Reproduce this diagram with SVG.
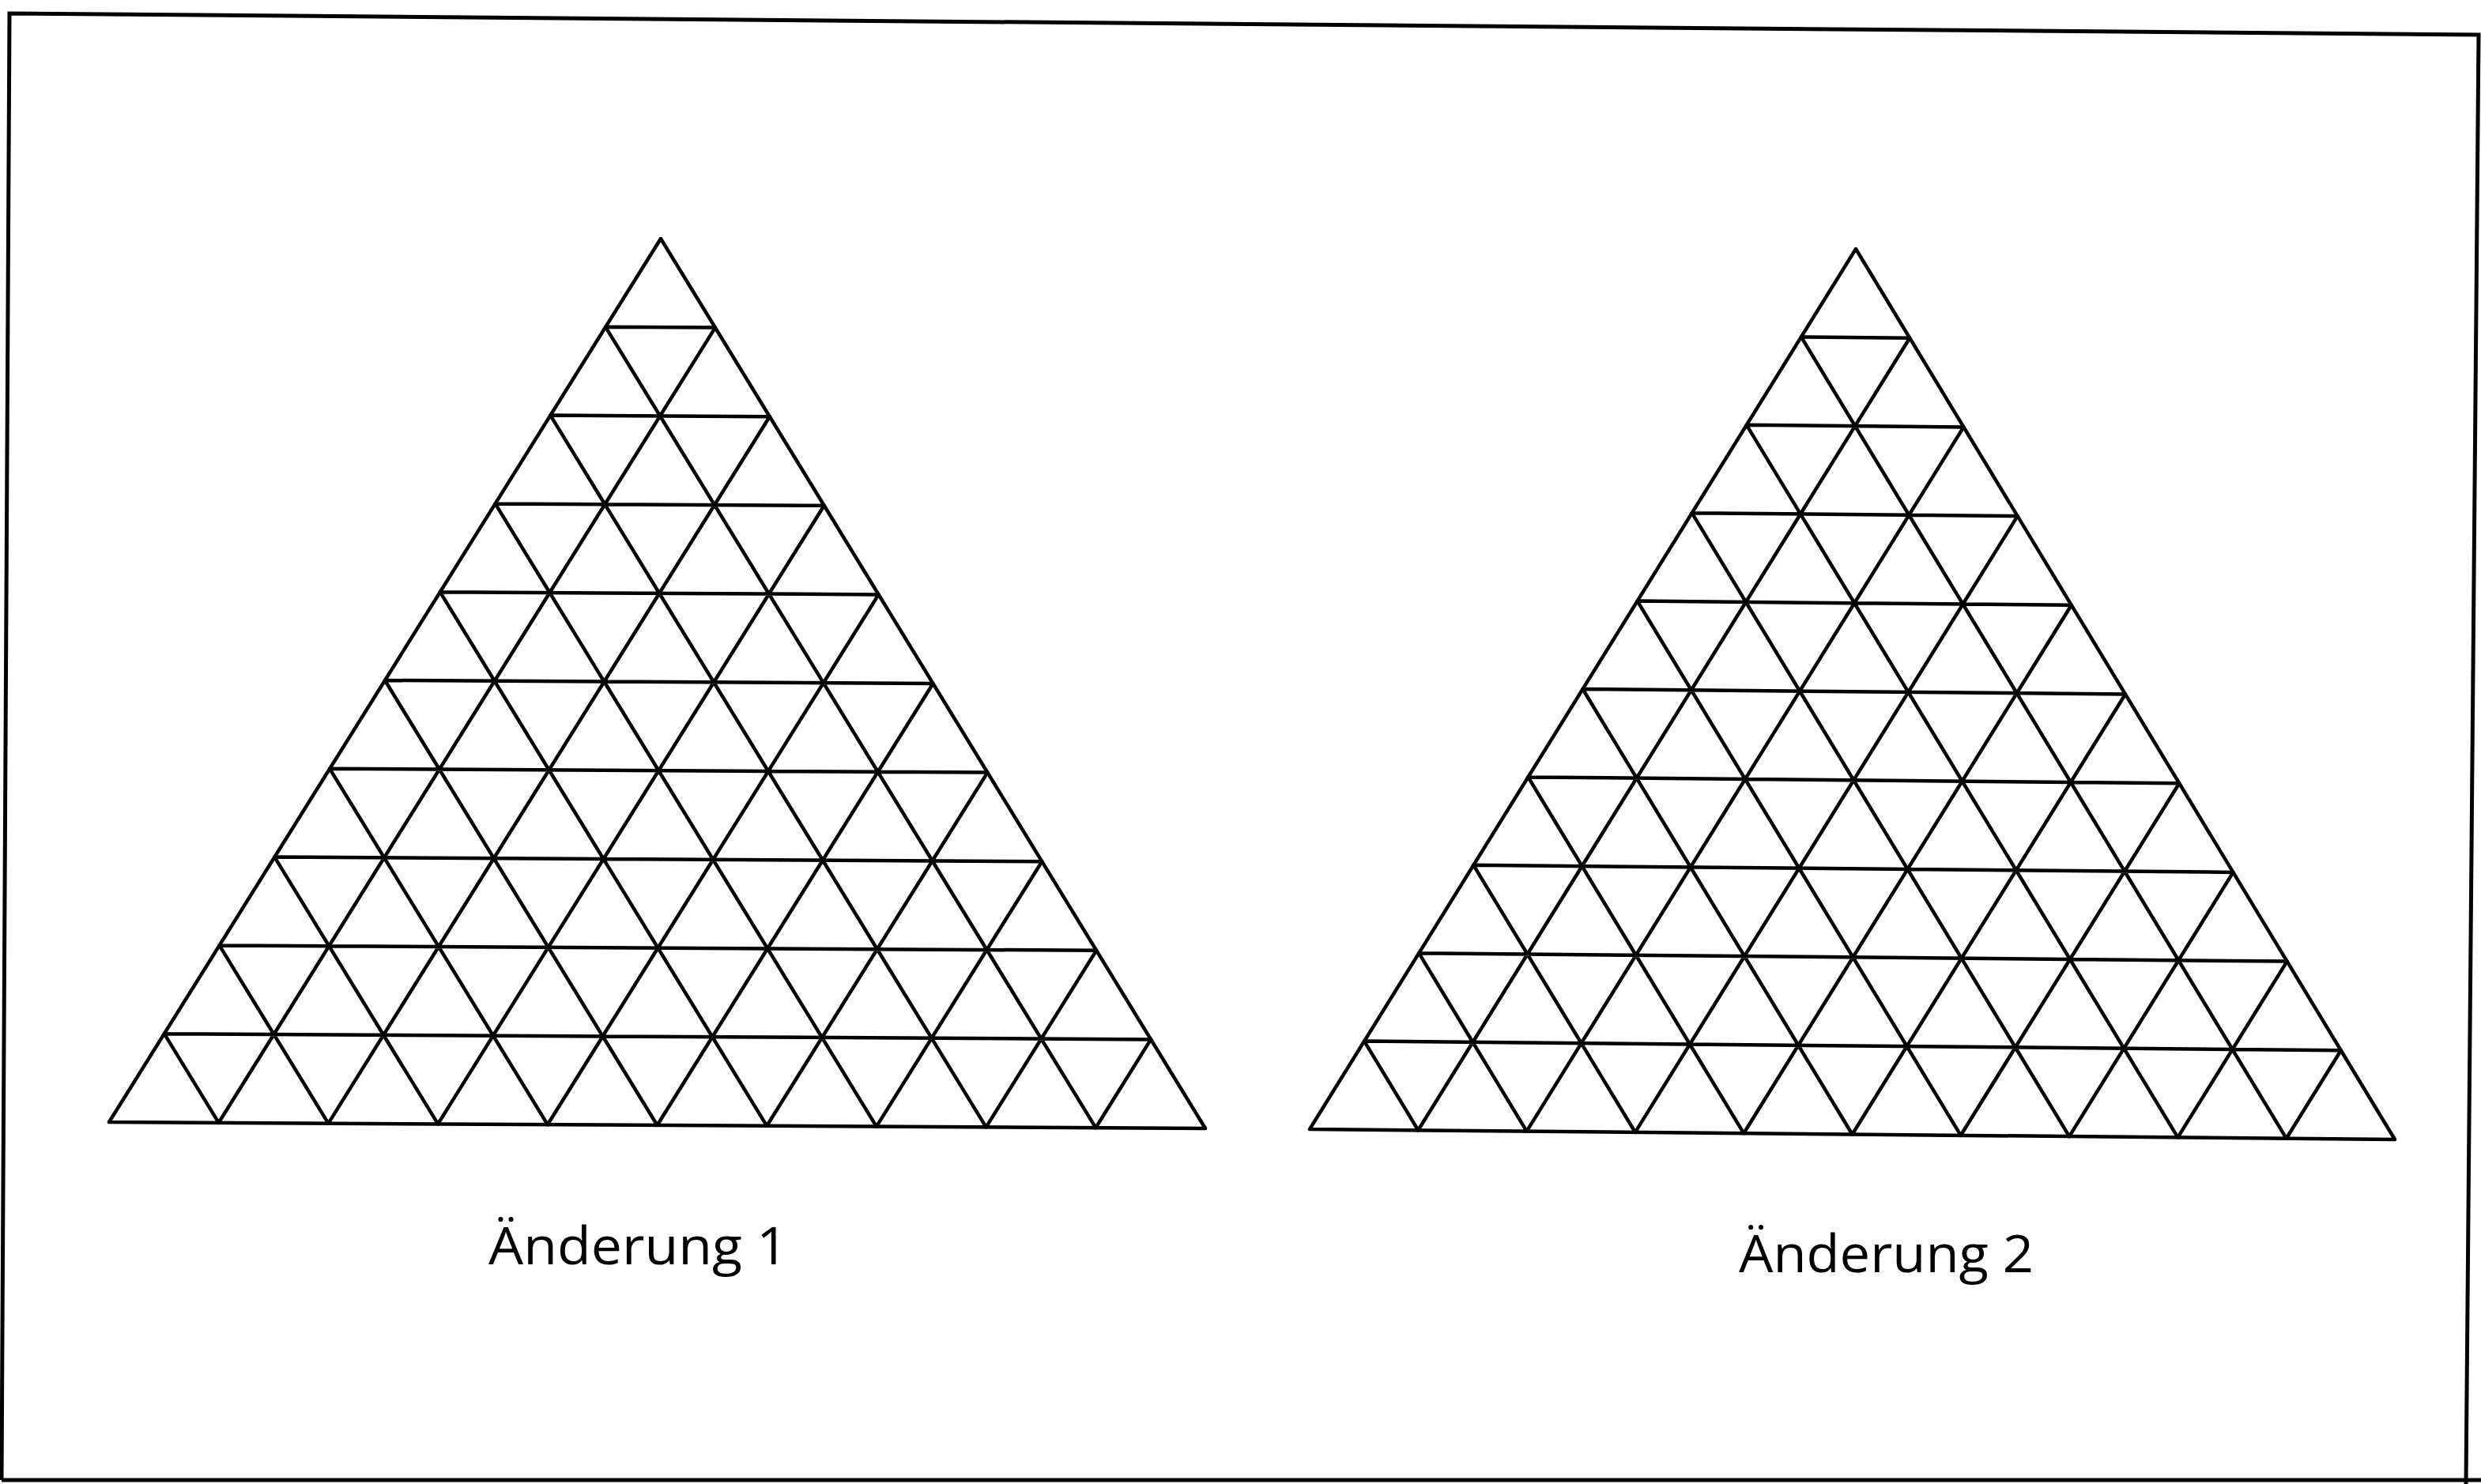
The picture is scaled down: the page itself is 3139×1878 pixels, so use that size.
<svg xmlns="http://www.w3.org/2000/svg" width="3139" height="1878" viewBox="0 0 3139 1878">
<style>
.ln{stroke:#000;stroke-width:4.5;fill:none;stroke-linecap:round;stroke-linejoin:round}
.fr{stroke:#000;stroke-width:5;fill:none}
.lbl{font-family:"Open Sans","Noto Sans","Liberation Sans",sans-serif;font-size:66px;fill:#000}
</style>
<rect width="3139" height="1878" fill="#fff"/>
<polyline class="fr" points="2,1873 12,17 3136,44 3120,1878"/>
<line class="fr" x1="2" y1="1873" x2="3139" y2="1873"/>
<g id="triangle1">
<polygon class="ln" points="836,302 138,1420 1525,1428"/>
<path class="ln" d="M766.2,413.8L904.9,414.6M696.4,525.6L973.8,527.2M626.6,637.4L1042.7,639.8M556.8,749.2L1111.6,752.4M487,861L1180.5,865M417.2,972.8L1249.4,977.6M347.4,1084.6L1318.3,1090.2M277.6,1196.4L1387.2,1202.8M207.8,1308.2L1456.1,1315.4
M904.9,414.6L276.7,1420.8M973.8,527.2L415.4,1421.6M1042.7,639.8L554.1,1422.4M1111.6,752.4L692.8,1423.2M1180.5,865L831.5,1424M1249.4,977.6L970.2,1424.8M1318.3,1090.2L1108.9,1425.6M1387.2,1202.8L1247.6,1426.4M1456.1,1315.4L1386.3,1427.2
M766.2,413.8L1386.3,1427.2M696.4,525.6L1247.6,1426.4M626.6,637.4L1108.9,1425.6M556.8,749.2L970.2,1424.8M487,861L831.5,1424M417.2,972.8L692.8,1423.2M347.4,1084.6L554.1,1422.4M277.6,1196.4L415.4,1421.6M207.8,1308.2L276.7,1420.8"/>
</g>
<g id="triangle2">
<polygon class="ln" points="2348,315 1657,1429 3030,1442"/>
<path class="ln" d="M2278.9,426.4L2416.2,427.7M2209.8,537.8L2484.4,540.4M2140.7,649.2L2552.6,653.1M2071.6,760.6L2620.8,765.8M2002.5,872L2689,878.5M1933.4,983.4L2757.2,991.2M1864.3,1094.8L2825.4,1103.9M1795.2,1206.2L2893.6,1216.6M1726.1,1317.6L2961.8,1329.3
M2416.2,427.7L1794.3,1430.3M2484.4,540.4L1931.6,1431.6M2552.6,653.1L2068.9,1432.9M2620.8,765.8L2206.2,1434.2M2689,878.5L2343.5,1435.5M2757.2,991.2L2480.8,1436.8M2825.4,1103.9L2618.1,1438.1M2893.6,1216.6L2755.4,1439.4M2961.8,1329.3L2892.7,1440.7
M2278.9,426.4L2892.7,1440.7M2209.8,537.8L2755.4,1439.4M2140.7,649.2L2618.1,1438.1M2071.6,760.6L2480.8,1436.8M2002.5,872L2343.5,1435.5M1933.4,983.4L2206.2,1434.2M1864.3,1094.8L2068.9,1432.9M1795.2,1206.2L1931.6,1431.6M1726.1,1317.6L1794.3,1430.3"/>
</g>
<g id="label1"><text class="lbl" x="618" y="1600" textLength="379" lengthAdjust="spacingAndGlyphs">Änderung 1</text></g>
<g id="label2"><text class="lbl" x="2200" y="1610" textLength="373" lengthAdjust="spacingAndGlyphs">Änderung 2</text></g>
</svg>
